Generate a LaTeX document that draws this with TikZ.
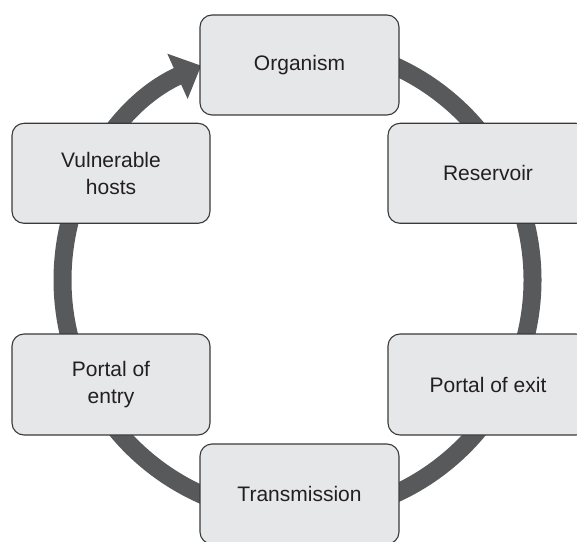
\documentclass[tikz,border=0pt]{standalone}
\usepackage{fontspec}
\setmainfont{Liberation Sans}
\usetikzlibrary{arrows.meta}
\definecolor{ringgray}{HTML}{58595B}
\definecolor{boxfill}{HTML}{E6E7E8}
\definecolor{boxline}{HTML}{3A3A3A}
\definecolor{txtcol}{HTML}{231F20}
\begin{document}
\begin{tikzpicture}[x=1pt,y=1pt,
  stage/.style={draw=boxline, line width=1.1pt, fill=boxfill, rounded corners=12pt,
    minimum width=199pt, minimum height=100pt, align=center,
    font=\fontsize{21}{27}\selectfont, text=txtcol, inner sep=0pt},
  ring/.style={draw=ringgray, line width=18pt}]
\clip (0,0) rectangle (577,541);
\coordinate (c) at (297.5,261);
\draw[ring, -{Triangle[length=26pt,width=48pt]}] (c) ++(90:235) arc[start angle=90, end angle=-245.8, radius=235];
\node[stage] (org) at (299.5,476) {Organism};
\node[stage, minimum width=200pt] (res) at (488,367.7) {Reservoir};
\node[stage, minimum width=200pt, minimum height=101pt] (exit) at (488,156.5) {Portal of exit};
\node[stage] (trans) at (299.5,47) {Transmission};
\node[stage, minimum width=198pt, minimum height=101pt] (entry) at (111,156.5) {Portal of\\entry};
\node[stage, minimum width=198pt] (vul) at (111,367.7) {Vulnerable\\hosts};
\end{tikzpicture}
\end{document}
